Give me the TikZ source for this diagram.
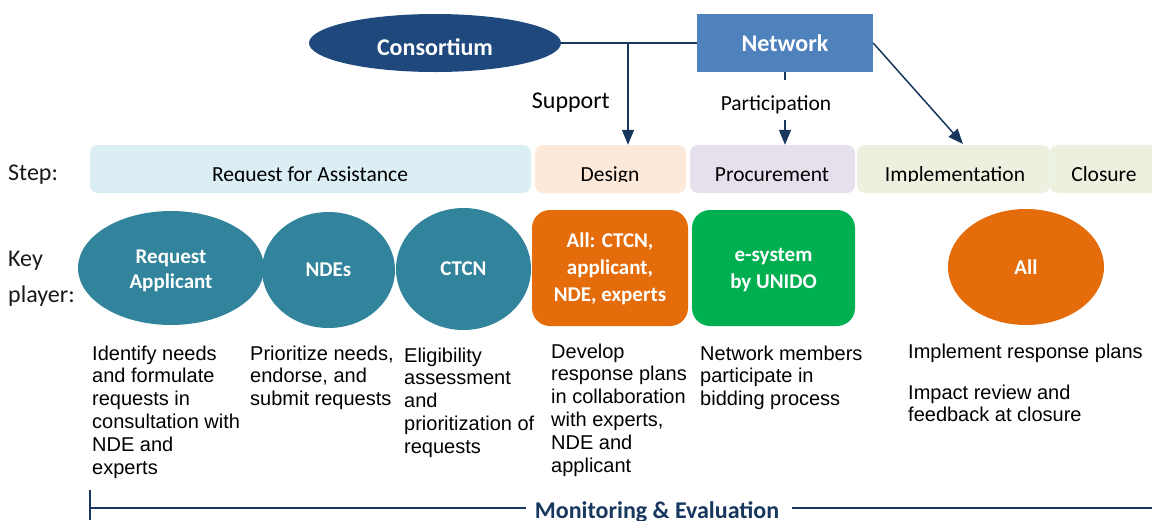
\documentclass[tikz,border=0pt]{standalone}
\usepackage{fontspec}
\setmainfont{Carlito}
\newfontfamily\arialfont{Liberation Sans}
\usetikzlibrary{shapes.geometric,arrows.meta}
\definecolor{stepblue}{HTML}{DAEEF3}
\definecolor{steppeach}{HTML}{FDE9D9}
\definecolor{steplav}{HTML}{E5E0EC}
\definecolor{stepgreen}{HTML}{EBF1DE}
\definecolor{tealc}{HTML}{31849B}
\definecolor{orangec}{HTML}{E46C0A}
\definecolor{greenc}{HTML}{00B050}
\definecolor{consblue}{HTML}{1F497D}
\definecolor{netblue}{HTML}{4F81BD}
\definecolor{navy}{HTML}{17375E}
\begin{document}
\begin{tikzpicture}[x=1pt,y=-1pt,
  stepbox/.style={fill=#1, draw=none, rounded corners=8pt, inner sep=0pt, minimum height=48pt},
  steptext/.style={anchor=base, inner sep=0pt, font=\fontsize{21.5}{24}\selectfont},
  playerell/.style={ellipse, fill=#1, draw=none, inner sep=0pt},
  playerbox/.style={fill=#1, draw=none, rounded corners=18pt, inner sep=0pt, minimum width=156pt, minimum height=116pt},
  playertext/.style={text=white, align=center, font=\bfseries\fontsize{21}{27}\selectfont},
  desc/.style={anchor=base west, inner sep=0pt, align=left, font=\arialfont\fontsize{20}{22.8}\selectfont},
  sidelabel/.style={anchor=base west, inner sep=0pt, font=\fontsize{24}{36}\selectfont, text=black!90},
  conn/.style={draw=navy, line width=1.5pt},
  arr/.style={conn, -{Triangle[width=12pt,length=15pt]}}
]
\useasboundingbox (0,0) rectangle (1152,520);

% --- top: consortium and network
\node[ellipse, fill=consblue, inner sep=0pt, minimum width=252pt, minimum height=58pt] (cons) at (435,43) {};
\node[fill=netblue, inner sep=0pt, minimum width=176pt, minimum height=58pt] (net) at (785,43) {};
\begin{scope}
  \clip (0,0) rectangle (1152,54.5);
  \node[anchor=base, inner sep=0pt, text=white, font=\bfseries\fontsize{24}{28}\selectfont] (constext) at (435,55) {Consortium};
\end{scope}
\node[anchor=base, inner sep=0pt, text=white, font=\bfseries\fontsize{24}{28}\selectfont] (nettext) at (785,51) {Network};

% --- step bar
\node[stepbox=stepblue, minimum width=441pt] (rfa) at (310.5,169) {};
\node[stepbox=steppeach, minimum width=151pt] (des) at (610.5,169) {};
\node[stepbox=steplav, minimum width=165pt] (pro) at (772.5,169) {};
\node[stepbox=stepgreen, minimum width=193pt] (imp) at (953.5,169) {};
\node[stepbox=stepgreen, minimum width=112pt, draw=white!40!stepgreen, line width=0.8pt] (clo) at (1106,169) {};
\begin{scope}
  \clip (0,0) rectangle (1152,181.5);
  \node[steptext] (rfat) at (310,181) {Request for Assistance};
  \node[steptext] (dest) at (610,181) {Design};
  \node[steptext] (prot) at (772,181) {Procurement};
  \node[steptext] (impt) at (955,181) {Implementation};
  \node[steptext] (clot) at (1104,181) {Closure};
  \node[anchor=base, inner sep=0pt, font=\fontsize{21.5}{24}\selectfont] (partt) at (776,110) {Participation};
\end{scope}

% --- connectors at the top
\coordinate (j) at (628,43);
\coordinate (p1) at (785,80);
\coordinate (p2) at (785,120);
\coordinate (impin) at (963,144);
\draw[conn] (cons.east) -- (net.west);
\draw[arr] (j) -- (j |- des.north);
\draw[conn] (net.south) -- (p1);
\draw[arr] (p2) -- (p2 |- pro.north);
\draw[arr] (net.east) -- (impin);
\node[anchor=base east, inner sep=0pt, font=\fontsize{24}{28}\selectfont] (supp) at (610,108) {Support};

% --- side labels
\node[sidelabel] (steplab) at (8,180) {Step:};
\node[sidelabel, align=left] (keylab) at (8,302) {Key\\player:};

% --- key players
\node[playerell=tealc, minimum width=186pt, minimum height=114pt] (ra) at (171,268) {};
\node[playerell=tealc, minimum width=133pt, minimum height=116pt] (nde) at (328.5,270) {};
\node[playerell=tealc, minimum width=135pt, minimum height=122pt] (ctcn) at (463.5,269) {};
\node[playertext, font=\bfseries\fontsize{21}{24.5}\selectfont] at ([yshift=-3pt]ra.center) {Request\\Applicant};
\node[playertext] at (nde) {NDEs};
\node[playertext] at (ctcn) {CTCN};
\node[playerbox=orangec] (allb) at (610,268) {};
\node[playertext] at ([yshift=-1pt]allb.center) {All: CTCN,\\applicant,\\NDE, experts};
\node[playerbox=greenc, minimum width=163pt] (esys) at (773.5,268) {};
\node[playertext] at ([yshift=-2pt]esys.center) {e-system\\by UNIDO};
\node[playerell=orangec, minimum width=156pt, minimum height=116pt] (all) at (1026,267) {};
\node[playertext] at (all) {All};

% --- descriptions (base anchor = baseline of the last line)
\node[desc] (d1) at (92,474) {Identify needs\\and formulate\\requests in\\consultation with\\NDE and\\experts};
\node[desc] (d2) at (250,405.6) {Prioritize needs,\\endorse, and\\submit requests};
\node[desc] (d3) at (404,453.2) {Eligibility\\assessment\\and\\prioritization of\\requests};
\node[desc] (d4) at (551,472) {Develop\\response plans\\in collaboration\\with experts,\\NDE and\\applicant};
\node[desc] (d5) at (700,405.6) {Network members\\participate in\\bidding process};
\node[desc] (d6) at (908,358) {Implement response plans};
\node[desc] (d7) at (908,421.8) {Impact review and\\feedback at closure};

% --- monitoring & evaluation
\node[anchor=base, inner sep=0pt, text=navy, font=\bfseries\fontsize{24}{28}\selectfont] (mon) at (657,518) {Monitoring \& Evaluation};
\coordinate (mtop) at (90,490);
\coordinate (mbot) at (90,520);
\coordinate (ml) at (90,508);
\coordinate (mr) at (1152,508);
\draw[conn] (mtop) -- (mbot);
\draw[conn] (ml) -- ([xshift=-9pt]mon.west |- ml);
\draw[conn] ([xshift=13pt]mon.east |- ml) -- (mr);
\end{tikzpicture}
\end{document}
